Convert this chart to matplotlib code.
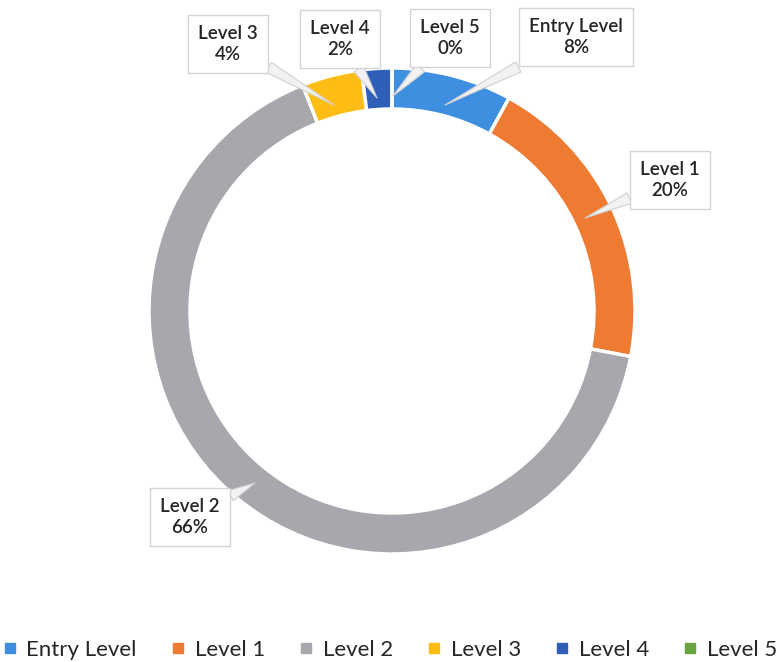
import matplotlib
matplotlib.use("Agg")
import matplotlib.pyplot as plt
from matplotlib.lines import Line2D

plt.rcParams['font.family'] = ['Lato', 'DejaVu Sans']

categories = ["Entry Level", "Level 1", "Level 2", "Level 3", "Level 4", "Level 5"]
shares = [8, 20, 66, 4, 2, 0]
labels = ["Entry Level\n8%", "Level 1\n20%", "Level 2\n66%", "Level 3\n4%", "Level 4\n2%", "Level 5\n0%"]
colors = ["#3f8fe0", "#ef7a32", "#a7a8ad", "#fdbd14", "#2f5fb9", "#6aa43f"]

H = 662
# label box centres and leader tips, in pixels from top-left
box_xy = [(576, 37), (670, 180), (190, 517), (228, 44), (340, 39), (450, 38)]
tip_xy = [(445, 105), (585, 218), (255, 483), (334, 105), (377, 98), (393, 96)]

fig = plt.figure(figsize=(7.8, 6.62), dpi=100)
ax = fig.add_axes([0, 0, 1, 1])

wedges, _ = ax.pie(shares, colors=colors, startangle=90, counterclock=False,
                   center=(392, H - 311), radius=243, frame=True,
                   wedgeprops=dict(width=41, edgecolor="white", linewidth=2.5))
ax.set_xlim(0, 780)
ax.set_ylim(0, H)
ax.set_aspect("equal")
ax.axis("off")

for lab, (bx, by), (tx, ty) in zip(labels, box_xy, tip_xy):
    ax.annotate(lab, xy=(tx, H - ty), xytext=(bx, H - by), ha="center", va="center",
                fontsize=13.5, fontweight="semibold", color="#262626", linespacing=1.3,
                bbox=dict(boxstyle="square,pad=0.55", fc="white", ec="#d4d4d4", lw=1),
                arrowprops=dict(arrowstyle="wedge,tail_width=0.6,shrink_factor=0.5",
                                fc="#f2f2f2", ec="#d0d0d0", lw=0.8, shrinkA=0, shrinkB=0))

handles = [Line2D([], [], marker="s", linestyle="", markersize=7, color=c) for c in colors]
fig.legend(handles, categories, loc="center", bbox_to_anchor=(0.5, 1 - 650 / H), ncol=6,
           frameon=False, fontsize=16, handlelength=0.6, handletextpad=0.45,
           columnspacing=1.55, labelcolor="#262626")

fig.savefig("out.png", dpi=100)
